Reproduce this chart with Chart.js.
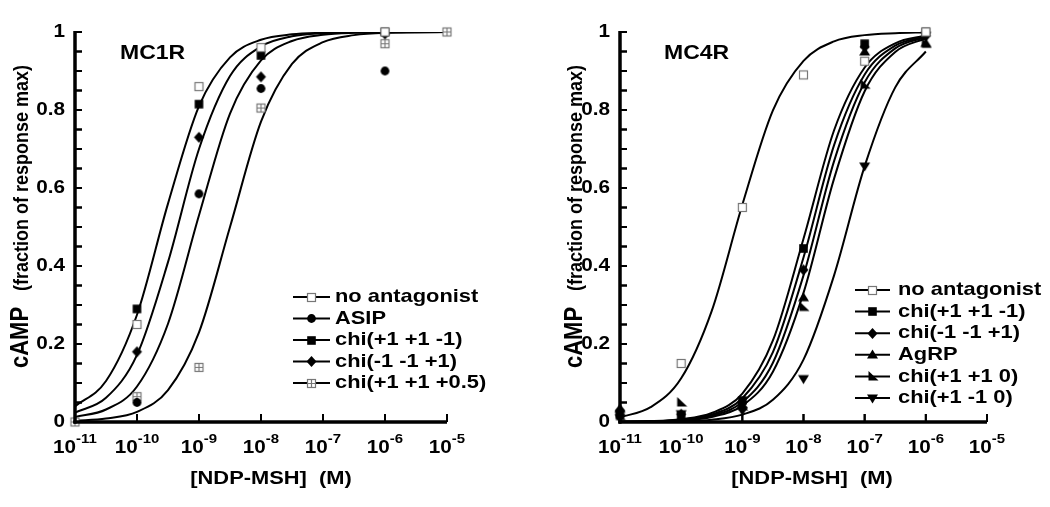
<!DOCTYPE html>
<html>
<head>
<meta charset="utf-8">
<script src="https://cdn.jsdelivr.net/npm/chart.js@4/dist/chart.umd.min.js"></script>
<style>
body { margin: 0; background: #fff; }
#wrap { position: relative; width: 1050px; height: 507px; }
canvas { position: absolute; top: 0; }
#axes { left: 0; z-index: 2; pointer-events: none; }
</style>
</head>
<body>
<div id="wrap">
  <canvas id="mc1r" width="525" height="507" style="left:0"></canvas>
  <canvas id="mc4r" width="525" height="507" style="left:525px"></canvas>
  <canvas id="axes" width="1050" height="507"></canvas>
</div>
<script>
// ---- data ----
// measured doses (M)
var doses1 = [1e-11, 1e-10, 1e-9, 1e-8, 1e-6, 1e-5];
var noAnt1 = [null, 0.25, 0.86, 0.96, 1.0, null];
var asip1  = [null, 0.05, 0.585, 0.855, 0.90, null];
var chiA1  = [null, 0.29, 0.815, 0.94, 1.0, null];     // chi(+1 +1 -1)
var chiB1  = [null, 0.18, 0.73, 0.885, 0.995, null];   // chi(-1 -1 +1)
var chiC1  = [0, 0.065, 0.14, 0.805, 0.97, 1.0];        // chi(+1 +1 +0.5)

var doses4 = [1e-11, 1e-10, 1e-9, 1e-8, 1e-7, 1e-6];
var noAnt4 = [null, 0.15, 0.55, 0.89, 0.925, 1.0];
var chiA4  = [0.02, 0.015, 0.055, 0.445, 0.97, 1.0];    // chi(+1 +1 -1)
var chiB4  = [0.03, 0.02, 0.05, 0.39, 0.962, 0.99];     // chi(-1 -1 +1)
var agrp4  = [0.035, 0.01, 0.045, 0.32, 0.95, 0.972];
var chiC4  = [0.015, 0.05, 0.04, 0.295, 0.865, 0.97];   // chi(+1 +1 0)
var chiD4  = [0.01, 0.02, 0.028, 0.11, 0.655, 0.99];    // chi(+1 -1 0)

// fitted curves, sampled every half decade (log10 of dose)
var curveLog1 = [-11, -10.5, -10, -9.5, -9, -8.5, -8, -7.5, -7, -6.5, -6, -5.5, -5];
var fitNoAnt1 = [0.040, 0.105, 0.275, 0.560, 0.810, 0.935, 0.980, 0.994, 0.998, 1, 1, 1, 1];
var fitChiB1  = [0.024, 0.062, 0.172, 0.410, 0.700, 0.887, 0.963, 0.989, 0.997, 0.999, 1, 1, 1];
var fitAsip1  = [0.013, 0.032, 0.091, 0.252, 0.530, 0.791, 0.927, 0.977, 0.993, 0.998, 0.999, 1, 1];
var fitChiC1  = [0.003, 0.009, 0.026, 0.082, 0.230, 0.500, 0.770, 0.918, 0.974, 0.992, 0.998, 0.999, 1];

var curveLog4 = [-11, -10.5, -10, -9.5, -9, -8.5, -8, -7.5, -7, -6.5, -6];
var fitNoAnt4 = [0.012, 0.038, 0.112, 0.285, 0.557, 0.799, 0.926, 0.976, 0.992, 0.997, 0.999];
var fitChiA4  = [0.001, 0.002, 0.007, 0.023, 0.073, 0.209, 0.470, 0.748, 0.909, 0.971, 0.991];
var fitChiB4  = [0.001, 0.002, 0.006, 0.019, 0.061, 0.179, 0.422, 0.710, 0.891, 0.965, 0.989];
var fitAgrp4  = [0, 0.001, 0.005, 0.016, 0.051, 0.152, 0.376, 0.669, 0.871, 0.958, 0.987];
var fitChiC4  = [0, 0.001, 0.004, 0.013, 0.042, 0.129, 0.331, 0.624, 0.848, 0.949, 0.984];
var fitChiD4  = [0, 0.001, 0.002, 0.006, 0.019, 0.057, 0.160, 0.376, 0.656, 0.858, 0.950];

var decades = [-11, -10, -9, -8, -7, -6, -5];
var yTicks = [0, 0.2, 0.4, 0.6, 0.8, 1];
var yTickLabels = ['0', '0.2', '0.4', '0.6', '0.8', '1'];

var FONT = '"Liberation Sans", Arial, Helvetica, sans-serif';
var SX = 1.15; // the scanned figure is a bit wider than tall

function makeMarker(kind) {
    var c = document.createElement('canvas');
    c.width = 13; c.height = 13;
    var g = c.getContext('2d');
    g.translate(6.5, 6.5);
    g.fillStyle = '#000';
    g.strokeStyle = '#000';
    g.beginPath();
    if (kind == 'openSquare' || kind == 'crossSquare') {
        g.fillStyle = '#fff';
        g.fillRect(-4, -4, 8, 8);
        g.strokeStyle = '#777';
        g.lineWidth = 1.2;
        g.strokeRect(-4, -4, 8, 8);
        if (kind == 'crossSquare') {
            g.beginPath();
            g.moveTo(0, -4); g.lineTo(0, 4);
            g.moveTo(-4, 0); g.lineTo(4, 0);
            g.stroke();
        }
        return c;
    }
    if (kind == 'circle') {
        g.arc(0, 0, 4.4, 0, Math.PI * 2);
    } else if (kind == 'square') {
        g.rect(-4.3, -4.3, 8.6, 8.6);
    } else if (kind == 'diamond') {
        g.moveTo(0, -5.5); g.lineTo(5, 0); g.lineTo(0, 5.5); g.lineTo(-5, 0);
    } else if (kind == 'triUp') {
        g.moveTo(0, -5); g.lineTo(5.5, 4); g.lineTo(-5.5, 4);
    } else if (kind == 'flag') {
        g.moveTo(-4, -5.5); g.lineTo(-4, 4); g.lineTo(6, 4);
    } else if (kind == 'triDown') {
        g.moveTo(-5.5, -4); g.lineTo(5.5, -4); g.lineTo(0, 5);
    }
    g.closePath();
    g.fill();
    return c;
}

var markers = {};
['openSquare', 'crossSquare', 'circle', 'square', 'diamond', 'triUp', 'flag', 'triDown'].forEach(function (k) {
    markers[k] = makeMarker(k);
});

function pts(xs, ys) {
    var out = [];
    for (var i = 0; i < xs.length; i++) {
        if (ys[i] !== null) out.push({x: xs[i], y: ys[i]});
    }
    return out;
}

function curve(logs, ys) {
    return {
        type: 'line',
        data: pts(logs.map(function (v) { return Math.pow(10, v); }), ys),
        borderColor: '#000',
        borderWidth: 2,
        pointRadius: 0,
        fill: false,
        cubicInterpolationMode: 'monotone',
        order: 2
    };
}

function scatter(xs, ys, kind) {
    return {
        type: 'scatter',
        data: pts(xs, ys),
        pointStyle: markers[kind],
        pointRadius: 5,
        showLine: false,
        clip: false,
        order: 1
    };
}

function text(ctx, str, x, y, size, align, base) {
    ctx.save();
    ctx.font = 'bold ' + size + 'px ' + FONT;
    ctx.textAlign = align || 'left';
    ctx.textBaseline = base || 'alphabetic';
    ctx.translate(x, y);
    ctx.scale(SX, 1);
    ctx.fillText(str, 0, 0);
    ctx.restore();
}

// tick labels, titles and legend
var panelPlugin = {
    id: 'panel',
    afterDraw: function (chart) {
        var o = chart.options.plugins.panel;
        var ctx = chart.ctx, xs = chart.scales.x, ys = chart.scales.y, a = chart.chartArea;
        ctx.save();
        ctx.fillStyle = '#000';
        ctx.strokeStyle = '#000';

        yTicks.forEach(function (v, i) {
            text(ctx, yTickLabels[i], a.left - 10, ys.getPixelForValue(v), 18, 'right', 'middle');
        });

        decades.forEach(function (e) {
            var px = xs.getPixelForValue(Math.pow(10, e));
            ctx.font = 'bold 18px ' + FONT;
            var w10 = ctx.measureText('10').width * SX;
            ctx.font = 'bold 13px ' + FONT;
            var we = ctx.measureText(String(e)).width * SX;
            var lx = px - (w10 + we) / 2;
            text(ctx, '10', lx, a.bottom + 31, 18);
            text(ctx, String(e), lx + w10, a.bottom + 21, 13);
        });

        text(ctx, '[NDP-MSH]  (M)', o.xTitleX, 479, 19, 'center', 'middle');

        ctx.save();
        ctx.translate(o.yTitleX, 368);
        ctx.scale(SX, 1);
        ctx.rotate(-Math.PI / 2);
        ctx.textBaseline = 'alphabetic';
        ctx.textAlign = 'left';
        ctx.font = 'bold 22px ' + FONT;
        ctx.fillText('cAMP', 0, 0);
        ctx.font = 'bold 18px ' + FONT;
        ctx.fillText('(fraction of response max)', 77, 0);
        ctx.restore();

        text(ctx, o.title, o.titleX, 53, 20, 'left', 'middle');

        o.legend.forEach(function (item, i) {
            var y = o.legY + i * o.legStep;
            ctx.lineWidth = 2;
            ctx.beginPath();
            ctx.moveTo(o.legX0, y);
            ctx.lineTo(o.legX1, y);
            ctx.stroke();
            var m = markers[item[1]];
            ctx.drawImage(m, Math.round((o.legX0 + o.legX1) / 2 - m.width / 2), Math.round(y - m.height / 2));
            text(ctx, item[0], o.legTextX, y, 19, 'left', 'middle');
        });
        ctx.restore();
    }
};

// axis lines and inward ticks, placed with a chart's own scales
function drawFrame(ctx, chart, dx) {
    var xs = chart.scales.x, ys = chart.scales.y;
    var x0 = dx + xs.getPixelForValue(1e-11);
    var x1 = dx + xs.getPixelForValue(1e-5);
    var y0 = ys.getPixelForValue(0);
    var y1 = ys.getPixelForValue(1);
    ctx.save();
    ctx.fillStyle = '#000';
    ctx.fillRect(x0 - 1.5, y1 - 1, 3, y0 - y1 + 2.5);
    ctx.fillRect(x0 - 1.5, y0 - 1.5, x1 - x0 + 1.5, 3);
    for (var k = 0; k <= 20; k++) {
        var py = ys.getPixelForValue(k * 0.05);
        ctx.fillRect(x0, py - 1, 7, 2);
    }
    decades.forEach(function (e) {
        var px = dx + xs.getPixelForValue(Math.pow(10, e));
        ctx.fillRect(px - 1, y0 - 8, 2, 8);
    });
    ctx.restore();
}

var framePlugin = {
    id: 'frame',
    afterDraw: function (chart) {
        drawFrame(chart.ctx, chart, 0);
    }
};

function makeChart(id, datasets, padding, panel) {
    return new Chart(document.getElementById(id).getContext('2d'), {
        type: 'scatter',
        data: {datasets: datasets},
        options: {
            responsive: false,
            animation: false,
            layout: {padding: padding},
            scales: {
                x: {type: 'logarithmic', min: 1e-11, max: 1e-5, display: false},
                y: {type: 'linear', min: 0, max: 1, display: false}
            },
            plugins: {
                legend: {display: false},
                tooltip: {enabled: false},
                panel: panel
            }
        },
        plugins: [panelPlugin, framePlugin]
    });
}

var chart1 = makeChart('mc1r', [
    scatter(doses1, noAnt1, 'openSquare'),
    scatter(doses1, asip1, 'circle'),
    scatter(doses1, chiB1, 'diamond'),
    scatter(doses1, chiC1, 'crossSquare'),
    scatter(doses1, chiA1, 'square'),
    curve(curveLog1, fitNoAnt1),
    curve(curveLog1, fitChiB1),
    curve(curveLog1, fitAsip1),
    curve(curveLog1, fitChiC1)
], {left: 75, right: 78, top: 32, bottom: 85}, {
    title: 'MC1R', titleX: 120, xTitleX: 271, yTitleX: 28,
    legX0: 293, legX1: 330, legTextX: 335, legY: 297, legStep: 21.5,
    legend: [
        ['no antagonist', 'openSquare'],
        ['ASIP', 'circle'],
        ['chi(+1 +1 -1)', 'square'],
        ['chi(-1 -1 +1)', 'diamond'],
        ['chi(+1 +1 +0.5)', 'crossSquare']
    ]
});

var chart4 = makeChart('mc4r', [
    scatter(doses4, noAnt4, 'openSquare'),
    scatter(doses4, chiD4, 'triDown'),
    scatter(doses4, chiC4, 'flag'),
    scatter(doses4, agrp4, 'triUp'),
    scatter(doses4, chiB4, 'diamond'),
    scatter(doses4, chiA4, 'square'),
    curve(curveLog4, fitNoAnt4),
    curve(curveLog4, fitChiA4),
    curve(curveLog4, fitChiB4),
    curve(curveLog4, fitAgrp4),
    curve(curveLog4, fitChiC4),
    curve(curveLog4, fitChiD4)
], {left: 95, right: 63, top: 32, bottom: 85}, {
    title: 'MC4R', titleX: 139, xTitleX: 287, yTitleX: 57,
    legX0: 330, legX1: 365, legTextX: 373, legY: 290, legStep: 21.6,
    legend: [
        ['no antagonist', 'openSquare'],
        ['chi(+1 +1 -1)', 'square'],
        ['chi(-1 -1 +1)', 'diamond'],
        ['AgRP', 'triUp'],
        ['chi(+1 +1 0)', 'flag'],
        ['chi(+1 -1 0)', 'triDown']
    ]
});

// the axis frames again on a transparent sheet above both charts
function drawOverlay() {
    var c = document.getElementById('axes');
    var g = c.getContext('2d');
    g.clearRect(0, 0, c.width, c.height);
    drawFrame(g, chart1, 0);
    drawFrame(g, chart4, 525);
}
drawOverlay();
setTimeout(drawOverlay, 0);
setTimeout(drawOverlay, 200);
</script>
</body>
</html>
